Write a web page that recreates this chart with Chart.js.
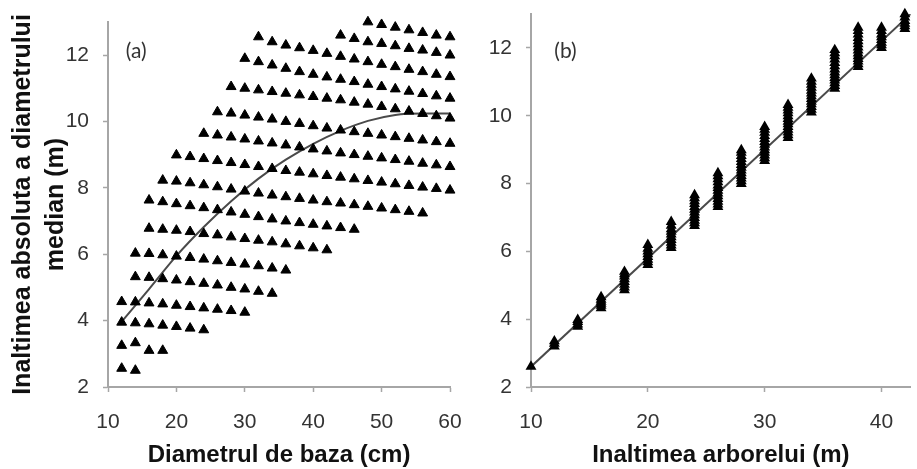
<!doctype html>
<html>
<head>
<meta charset="utf-8">
<script src="https://cdn.jsdelivr.net/npm/chart.js@4.4.1/dist/chart.umd.min.js"></script>
<style>
  body { margin: 0; background: #fff; }
  canvas { position: absolute; top: 0; }
</style>
<title>Inaltimea diametrului median</title>
</head>
<body>
<canvas id="chartA" width="470" height="469" style="left:0"></canvas>
<canvas id="chartB" width="447" height="469" style="left:470px"></canvas>
<script>

// (a) diameter classes (cm) and the height rows, each row listed from its first diameter
const diameters = [12, 14, 16, 18, 20, 22, 24, 26, 28, 30, 32, 34, 36, 38, 40, 42, 44, 46, 48, 50, 52, 54, 56, 58, 60]
const rowStarts = [12, 12, 12, 12, 14, 14, 16, 16, 18, 20, 24, 26, 28, 30, 32, 44, 48]
const rowHeights = [
  [2.56, 2.5],
  [3.25, 3.33, 3.1, 3.1],
  [3.95, 3.93, 3.9, 3.86, 3.82, 3.77, 3.72],
  [4.57, 4.56, 4.53, 4.5, 4.46, 4.42, 4.38, 4.34, 4.3, 4.25],
  [5.32, 5.3, 5.26, 5.22, 5.17, 5.12, 5.07, 5.0, 4.95, 4.88, 4.82],
  [6.03, 6.02, 5.98, 5.94, 5.9, 5.85, 5.8, 5.75, 5.7, 5.65, 5.58, 5.52],
  [6.78, 6.75, 6.72, 6.68, 6.62, 6.58, 6.52, 6.47, 6.42, 6.37, 6.31, 6.25, 6.19, 6.13],
  [7.63, 7.58, 7.52, 7.46, 7.4, 7.34, 7.27, 7.2, 7.13, 7.06, 7.0, 6.95, 6.9, 6.85, 6.8, 6.75],
  [8.23, 8.2, 8.15, 8.09, 8.03, 7.96, 7.9, 7.84, 7.78, 7.73, 7.68, 7.63, 7.58, 7.54, 7.49, 7.44, 7.39, 7.34, 7.29, 7.24],
  [8.99, 8.94, 8.88, 8.82, 8.76, 8.7, 8.64, 8.58, 8.52, 8.47, 8.42, 8.37, 8.32, 8.27, 8.22, 8.17, 8.12, 8.07, 8.02, 7.98, 7.93],
  [9.64, 9.59, 9.53, 9.47, 9.41, 9.35, 9.29, 9.23, 9.17, 9.11, 9.05, 9.0, 8.95, 8.9, 8.85, 8.8, 8.74, 8.69, 8.64],
  [10.29, 10.25, 10.19, 10.13, 10.07, 10.0, 9.94, 9.87, 9.8, 9.74, 9.69, 9.64, 9.59, 9.54, 9.49, 9.44, 9.39, 9.34],
  [11.05, 11.0, 10.95, 10.9, 10.85, 10.8, 10.75, 10.7, 10.65, 10.58, 10.52, 10.45, 10.38, 10.31, 10.24, 10.17, 10.1],
  [11.9, 11.8, 11.7, 11.6, 11.5, 11.42, 11.34, 11.27, 11.2, 11.12, 11.05, 10.98, 10.91, 10.84, 10.77, 10.7],
  [12.55, 12.4, 12.3, 12.22, 12.14, 12.05, 11.96, 11.88, 11.8, 11.72, 11.65, 11.57, 11.5, 11.42, 11.35],
  [12.6, 12.5, 12.4, 12.35, 12.28, 12.2, 12.15, 12.08, 12.0],
  [13.0, 12.92, 12.84, 12.76, 12.68, 12.6, 12.55]
]
const fitDiameters = [12, 16, 20, 24, 28, 32, 36, 40, 44, 48, 52, 56, 60]
const fitHeights = [3.97, 4.95, 5.95, 6.82, 7.6, 8.28, 8.85, 9.33, 9.72, 10.02, 10.2, 10.24, 10.24]

// (b) tree height classes (m) and the stacked median heights at each
const treeHeights = [10, 12, 14, 16, 18, 20, 22, 24, 26, 28, 30, 32, 34, 36, 38, 40, 42]
const stackHeights = [
  [2.6],
  [3.2, 3.28, 3.35],
  [3.78, 3.85, 3.92, 3.98],
  [4.33, 4.4, 4.46, 4.52, 4.58, 4.65],
  [4.86, 4.94, 5.02, 5.1, 5.18, 5.26, 5.33, 5.4],
  [5.6, 5.68, 5.76, 5.84, 5.92, 6.0, 6.08, 6.19],
  [6.1, 6.18, 6.26, 6.34, 6.42, 6.5, 6.58, 6.66, 6.76, 6.87],
  [6.75, 6.83, 6.91, 6.99, 7.07, 7.15, 7.23, 7.31, 7.4, 7.48, 7.57, 7.66],
  [7.31, 7.39, 7.47, 7.55, 7.63, 7.71, 7.79, 7.87, 7.95, 8.04, 8.13, 8.22, 8.31],
  [7.99, 8.07, 8.15, 8.23, 8.31, 8.39, 8.47, 8.55, 8.64, 8.73, 8.82, 8.91, 8.99],
  [8.67, 8.75, 8.83, 8.91, 8.99, 9.07, 9.15, 9.23, 9.32, 9.41, 9.5, 9.59, 9.67],
  [9.35, 9.43, 9.51, 9.59, 9.67, 9.75, 9.83, 9.91, 9.99, 10.08, 10.16, 10.24, 10.32],
  [10.1, 10.18, 10.26, 10.34, 10.42, 10.5, 10.58, 10.66, 10.74, 10.83, 10.92, 11.01, 11.1],
  [10.8, 10.88, 10.96, 11.04, 11.12, 11.2, 11.28, 11.37, 11.46, 11.56, 11.66, 11.76, 11.85, 11.94],
  [11.44, 11.52, 11.6, 11.68, 11.76, 11.84, 11.93, 12.02, 12.11, 12.2, 12.3, 12.4, 12.5, 12.6],
  [12.0, 12.08, 12.16, 12.24, 12.32, 12.4, 12.5, 12.6],
  [12.56, 12.64, 12.72, 12.8, 12.9, 13.0]
]
const lineX = [10, 42.5]
const lineY = [2.6, 13.0]

const INK = '#111'
const AXIS = '#a6a6a6'
Chart.defaults.font.family = "'Liberation Sans', Arial, sans-serif"

const pointsA = rowHeights.flatMap((row, r) => {
  const first = diameters.indexOf(rowStarts[r])
  return row.map((h, i) => ({ x: diameters[first + i], y: h }))
})
const pointsB = stackHeights.flatMap((col, c) => col.map(h => ({ x: treeHeights[c], y: h })))
const zip = (xs, ys) => xs.map((x, i) => ({ x, y: ys[i] }))

const keepSteps = step => scale => {
  scale.ticks = scale.ticks.filter(t => Math.abs(t.value / step - Math.round(t.value / step)) < 1e-6)
}

// "(a)" / "(b)" tag in the top-left of each panel
const panelLabel = {
  id: 'panelLabel',
  afterDatasetsDraw(chart, args, opts) {
    const { ctx, scales: { x, y } } = chart
    ctx.save()
    ctx.font = '21px Lato, sans-serif'
    ctx.fillStyle = '#333'
    ctx.textAlign = 'left'
    ctx.textBaseline = 'middle'
    ctx.fillText(opts.text, x.getPixelForValue(opts.x), y.getPixelForValue(opts.y))
    ctx.restore()
  }
}

// fixed axis box sizes so both plot areas land where the picture has them
const axisStyle = (min, max, step, size, pad, title, titleOpts) => ({
  type: 'linear',
  min, max,
  ticks: { stepSize: step, includeBounds: false, color: '#333', font: { size: 21 }, padding: pad },
  grid: { drawOnChartArea: false, color: AXIS, tickLength: 5, tickWidth: 1.5 },
  border: { color: AXIS, width: 2 },
  title: Object.assign({ display: !!title, text: title, color: INK }, titleOpts),
  afterBuildTicks: keepSteps(step),
  afterFit: s => {
    if (s.isHorizontal()) {
      s.height = size
      s.paddingLeft = s.paddingRight = 0
    } else {
      s.width = size
      s.paddingTop = s.paddingBottom = 0
    }
  }
})

const xTitle = { font: { size: 24, weight: 'bold', lineHeight: 1.05 }, padding: { top: 0, bottom: 1 } }
const yTitle = { font: { size: 25, weight: 'bold', lineHeight: 1.33 }, padding: { top: 6, bottom: 0 } }

const baseOptions = (padding, scales, label) => ({
  responsive: false,
  animation: false,
  events: [],
  devicePixelRatio: 1,
  layout: { padding },
  plugins: { legend: { display: false }, tooltip: { enabled: false }, panelLabel: label },
  scales
})

new Chart(document.getElementById('chartA'), {
  type: 'scatter',
  data: {
    datasets: [
      {
        data: pointsA,
        pointStyle: 'triangle',
        pointRadius: 5.7,
        backgroundColor: '#000',
        borderColor: '#000',
        borderWidth: 1,
        clip: false
      },
      {
        data: zip(fitDiameters, fitHeights),
        showLine: true,
        cubicInterpolationMode: 'monotone',
        borderColor: '#4a4a4a',
        borderWidth: 2,
        pointRadius: 0
      }
    ]
  },
  options: baseOptions(
    { top: 22, right: 20, bottom: 0, left: 0 },
    {
      x: axisStyle(10, 60, 10, 82, 18, 'Diametrul de baza (cm)', xTitle),
      y: axisStyle(2, 13, 2, 108, 14, ['Inaltimea absoluta a diametrului', 'median (m)'], yTitle)
    },
    { text: '(a)', x: 12.6, y: 12.12 }
  ),
  plugins: [panelLabel]
})

new Chart(document.getElementById('chartB'), {
  type: 'scatter',
  data: {
    datasets: [
      {
        data: pointsB,
        pointStyle: 'triangle',
        pointRadius: 4.3,
        backgroundColor: '#000',
        borderColor: '#000',
        borderWidth: 2,
        clip: false
      },
      {
        data: zip(lineX, lineY),
        showLine: true,
        borderColor: '#4a4a4a',
        borderWidth: 2,
        pointRadius: 0
      }
    ]
  },
  options: baseOptions(
    { top: 14, right: 0, bottom: 0, left: 0 },
    {
      x: axisStyle(10, 42.5, 10, 82, 18, 'Inaltimea arborelui (m)', xTitle),
      y: axisStyle(2, 13, 2, 61, 14, '', {})
    },
    { text: '(b)', x: 12.0, y: 11.91 }
  ),
  plugins: [panelLabel]
})

</script>
</body>
</html>
